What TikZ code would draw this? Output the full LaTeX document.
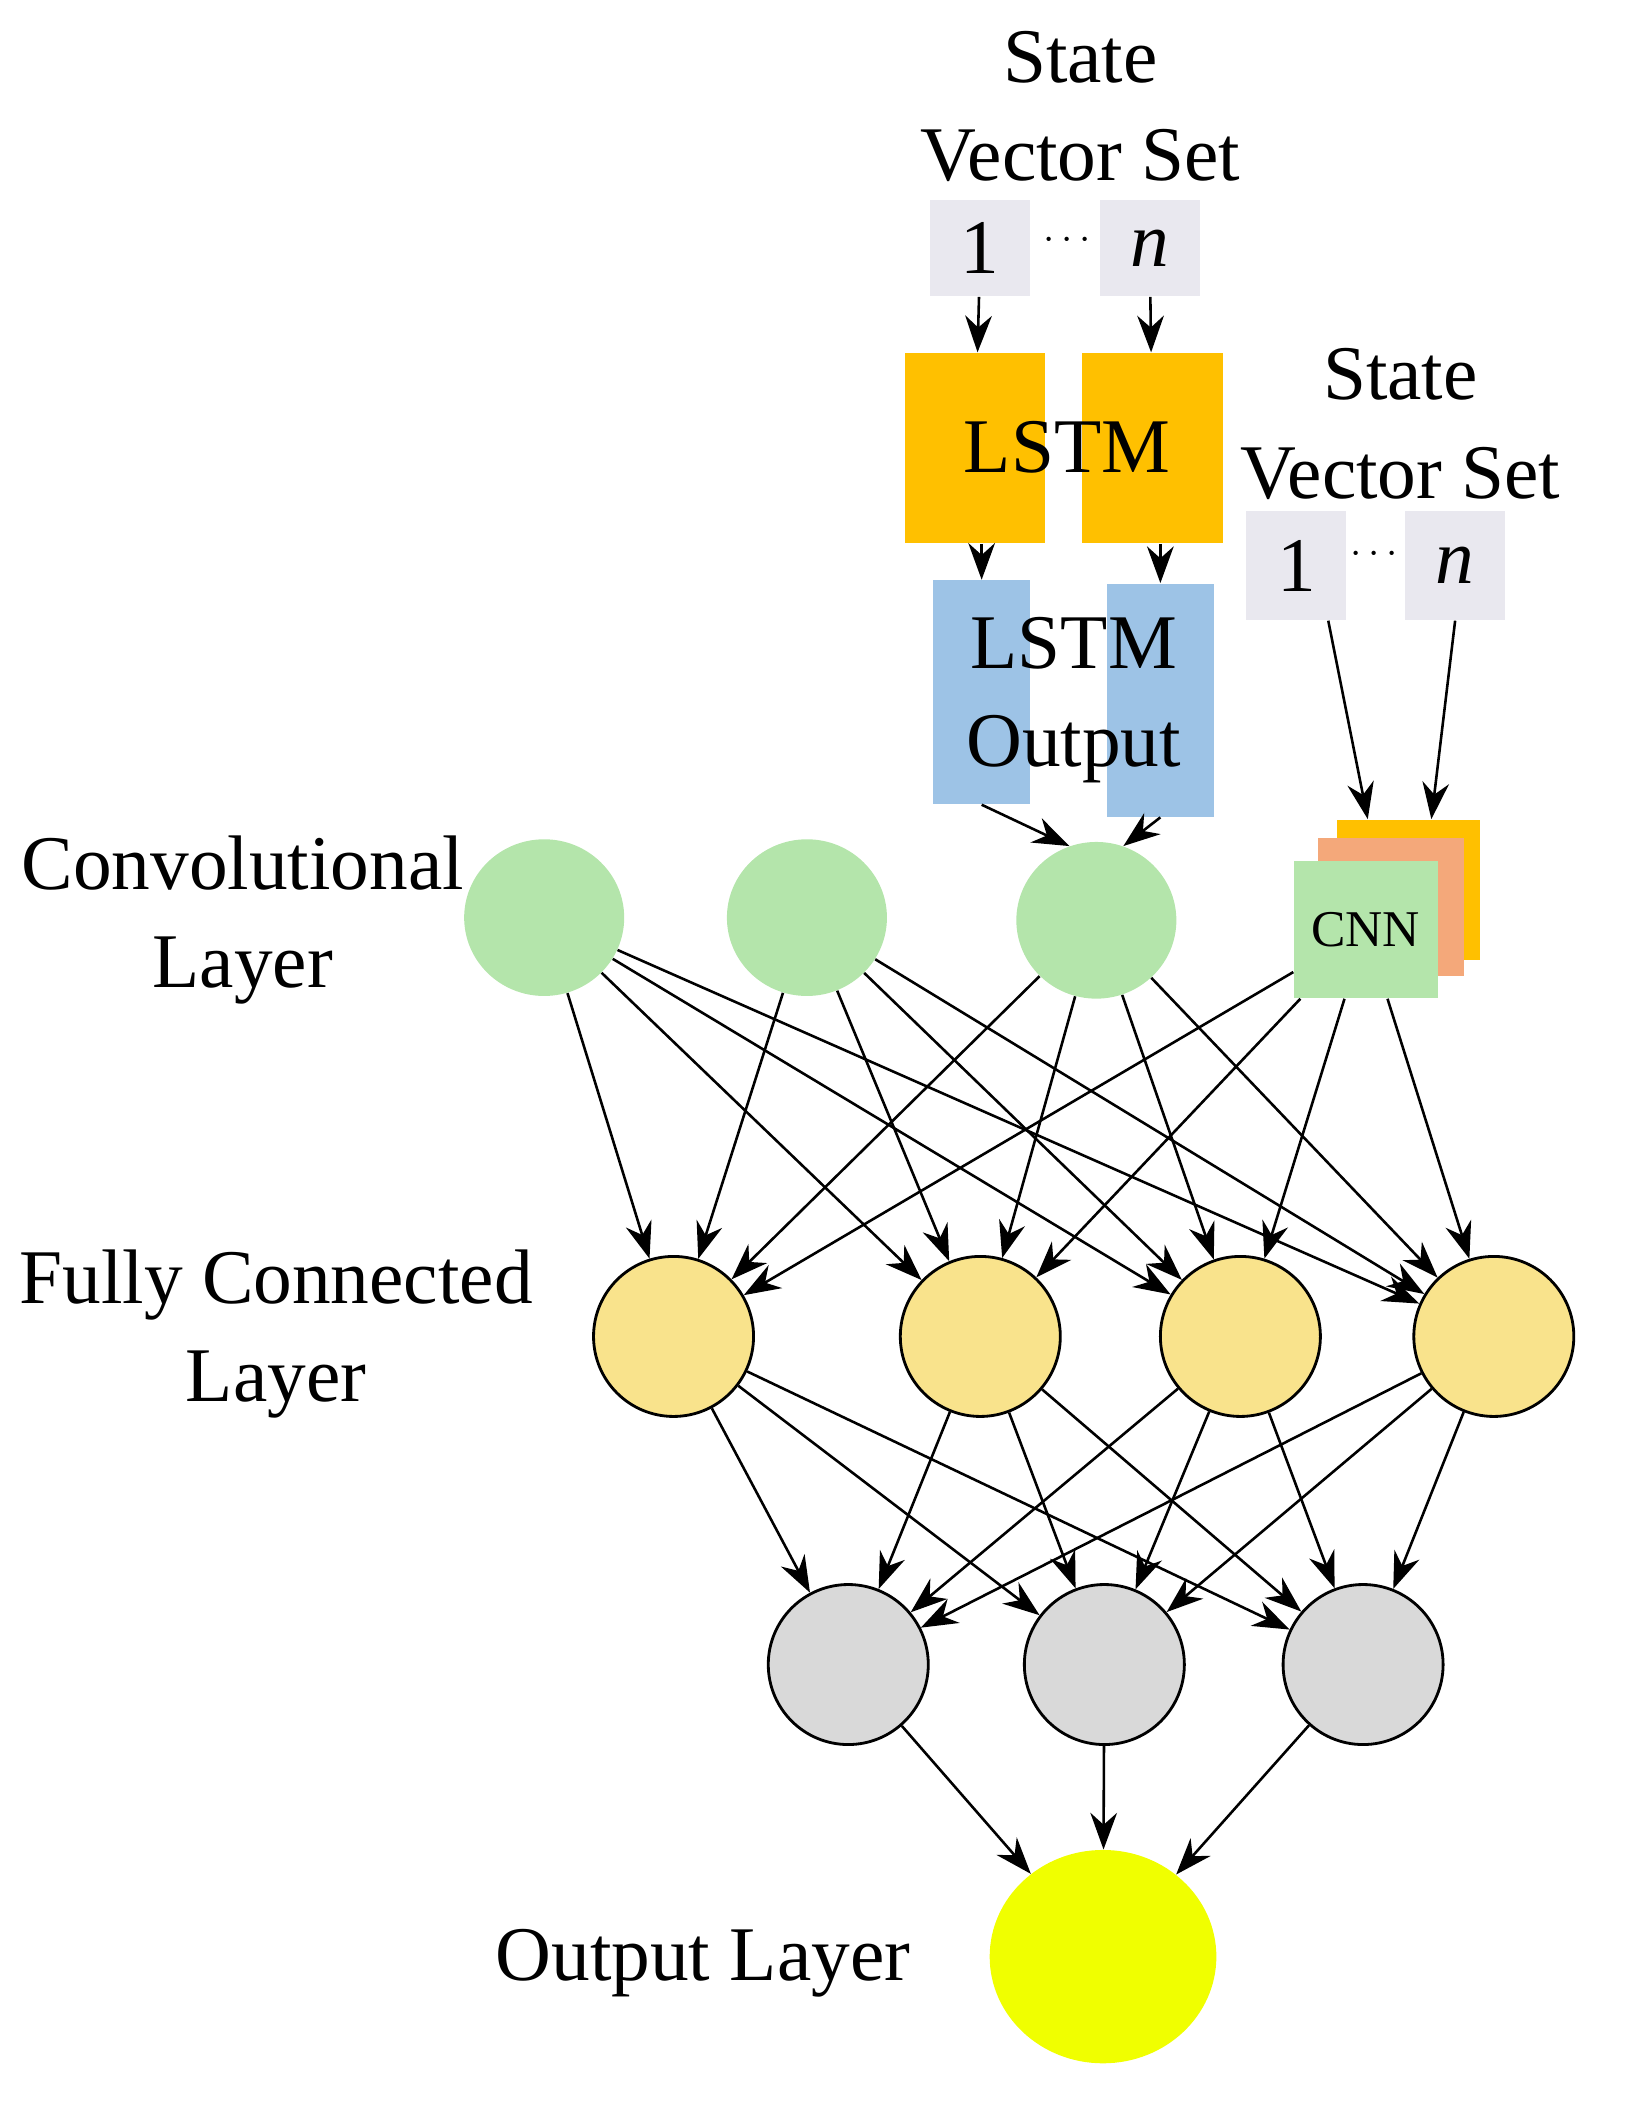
\documentclass[tikz,border=0pt]{standalone}
\usepackage{fontspec}
\setmainfont{Liberation Serif}
\usetikzlibrary{shapes.geometric, positioning, arrows.meta}
\definecolor{convcolor}{HTML}{B4E5AB}
\definecolor{fccolor}{HTML}{F9E38C}
\definecolor{hidcolor}{HTML}{D9D9D9}
\definecolor{outcolor}{HTML}{F0FF00}
\definecolor{lstmcolor}{HTML}{FFC000}
\definecolor{lstmout}{HTML}{9DC3E6}
\definecolor{veccolor}{HTML}{E9E8EF}
\definecolor{salmon}{HTML}{F4A87A}
\tikzset{
  every node/.style={font=\fontsize{33}{42}\selectfont},
  conv/.style={ellipse, fill=convcolor, minimum width=2.4cm, minimum height=2.35cm},
  fc/.style={circle, draw, line width=1.2pt, fill=fccolor, minimum size=2.4cm},
  hid/.style={circle, draw, line width=1.2pt, fill=hidcolor, minimum size=2.4cm},
  vec/.style={fill=veccolor, minimum width=1.5cm, minimum height=1.45cm, inner sep=0pt},
  arr/.style={-{Stealth[length=0.55cm,width=0.4cm]}, line width=1.1pt},
}
\begin{document}
\begin{tikzpicture}[x=0.02cm, y=-0.02cm]
        \useasboundingbox (0,0) rectangle (1220,1585);

        % LSTM branch
        \node[align=center] (T1) at (810,80) {State\\Vector Set};
        \node[vec] (V1) at (735,186) {1};
        \node[vec] (Vn) at (862,186) {\textit{n}};
        \node at (800,180) {\fontsize{16}{16}\selectfont$\cdots$};
        \node[fill=lstmcolor, minimum width=2.1cm, minimum height=2.86cm] (L1) at (731,336) {};
        \node[fill=lstmcolor, minimum width=2.12cm, minimum height=2.86cm] (Ln) at (864,336) {};
        \node at (800,335) {LSTM};
        \node[fill=lstmout, minimum width=1.46cm, minimum height=3.36cm] (B1) at (736,519) {};
        \node[fill=lstmout, minimum width=1.6cm, minimum height=3.5cm] (Bn) at (870,525) {};
        \node[align=center] at (805,525) {LSTM\\Output};

        % CNN branch
        \node[align=center] (T2) at (1050,318) {State\\Vector Set};
        \node[vec, minimum height=1.64cm] (W1) at (972,424) {1};
        \node[vec, minimum height=1.64cm] (Wn) at (1091,424) {\textit{n}};
        \node at (1030,416) {\fontsize{16}{16}\selectfont$\cdots$};
        \node[fill=lstmcolor, minimum width=2.14cm, minimum height=2.1cm] (K3) at (1056,667) {};
        \node[fill=salmon, minimum width=2.2cm, minimum height=2.08cm] (K2) at (1043,680) {};
        \node[fill=convcolor, minimum width=2.16cm, minimum height=2.06cm, font=\fontsize{22}{24}\selectfont] (CNN) at (1024,697) {CNN};

        % layers
        \node[conv] (C1) at (408,688) {};
        \node[conv] (C2) at (605,688) {};
        \node[conv] (C3) at (822,690) {};
        \node[fc] (F1) at (505,1002) {};
        \node[fc] (F2) at (735,1002) {};
        \node[fc] (F3) at (930,1002) {};
        \node[fc] (F4) at (1120,1002) {};
        \node[hid] (H1) at (636,1248) {};
        \node[hid] (H2) at (828,1248) {};
        \node[hid] (H3) at (1022,1248) {};
        \node[ellipse, fill=outcolor, minimum width=3.4cm, minimum height=3.2cm] (O) at (827,1467) {};

        \node[align=center] at (182,690) {Convolutional\\Layer};
        \node[align=center] at (207,1000) {Fully Connected\\Layer};
        \node at (527,1472) {Output Layer};

        % connectors
        \draw[arr] (V1) -- (L1);
        \draw[arr] (Vn) -- (Ln);
        \draw[arr] (L1.south -| B1) -- (B1);
        \draw[arr] (Ln.south -| Bn) -- (Bn);
        \draw[arr] (B1.south) -- (C3.110);
        \draw[arr] (Bn.south) -- (C3.70);
        \draw[arr] (W1.300) -- (K3.120);
        \draw[arr] (Wn.south) -- (K3.72);
        \foreach \s in {C1,C2,C3,CNN}
          \foreach \t in {F1,F2,F3,F4}
            \draw[arr] (\s) -- (\t);
        \foreach \s in {F1,F2,F3,F4}
          \foreach \t in {H1,H2,H3}
            \draw[arr] (\s) -- (\t);
        \foreach \s in {H1,H2,H3}
          \draw[arr] (\s) -- (O);
      \end{tikzpicture}
\end{document}
